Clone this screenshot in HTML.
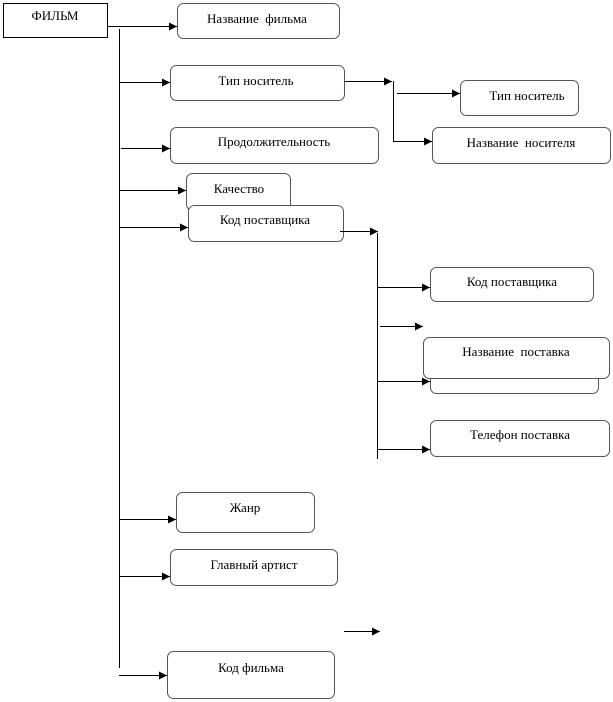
<!DOCTYPE html>
<html><head><meta charset="utf-8"><style>
html,body{margin:0;padding:0;background:#fff;}
svg{display:block;}
text{font-family:"Liberation Serif","Noto Serif CJK SC",serif;font-size:13px;fill:#000;white-space:pre;}
</style></head><body>
<svg width="613" height="702" viewBox="0 0 613 702" xmlns="http://www.w3.org/2000/svg" xml:space="preserve">
<defs>
<marker id="a" markerWidth="8" markerHeight="8" refX="8" refY="4" orient="auto" markerUnits="userSpaceOnUse">
<path d="M0,0 L8,4 L0,8 Z" fill="#000"/></marker>
</defs>
<g fill="#fff" stroke="#555" stroke-width="1">
<rect x="3.5" y="3.5" width="104" height="34" stroke="#000"/>
<rect x="177.5" y="3.5" width="162" height="35" rx="6"/>
<rect x="170.5" y="65.5" width="174" height="35" rx="6"/>
<rect x="170.5" y="127.5" width="208" height="36" rx="6"/>
<rect x="186.5" y="173.5" width="104" height="37" rx="6"/>
<rect x="188.5" y="205.5" width="155" height="36" rx="6"/>
<rect x="460.5" y="80.5" width="118" height="35" rx="6"/>
<rect x="432.5" y="127.5" width="178" height="36" rx="6"/>
<rect x="430.5" y="267.5" width="163" height="34" rx="6"/>
<rect x="430.5" y="355.5" width="168" height="38" rx="6"/>
<rect x="423.5" y="337.5" width="186" height="41" rx="6"/>
<rect x="430.5" y="420.5" width="179" height="36" rx="6"/>
<rect x="176.5" y="492.5" width="138" height="40" rx="6"/>
<rect x="170.5" y="549.5" width="167" height="36" rx="6"/>
<rect x="167.5" y="651.5" width="167" height="47" rx="6"/>
</g>
<g stroke="#000" stroke-width="1" fill="none">
<line x1="119.5" y1="29" x2="119.5" y2="668"/>
<line x1="107" y1="26.5" x2="177" y2="26.5" marker-end="url(#a)"/>
<line x1="119" y1="82.5" x2="170" y2="82.5" marker-end="url(#a)"/>
<line x1="121" y1="148.5" x2="170" y2="148.5" marker-end="url(#a)"/>
<line x1="119" y1="190.5" x2="186" y2="190.5" marker-end="url(#a)"/>
<line x1="119" y1="227.5" x2="188" y2="227.5" marker-end="url(#a)"/>
<line x1="119" y1="519.5" x2="176" y2="519.5" marker-end="url(#a)"/>
<line x1="119" y1="576.5" x2="170" y2="576.5" marker-end="url(#a)"/>
<line x1="119" y1="675.5" x2="167" y2="675.5" marker-end="url(#a)"/>
<line x1="344" y1="81.5" x2="392" y2="81.5" marker-end="url(#a)"/>
<polyline points="393.5,81 393.5,141.5 432,141.5" marker-end="url(#a)"/>
<line x1="397" y1="93.5" x2="460" y2="93.5" marker-end="url(#a)"/>
<line x1="340" y1="231.5" x2="378" y2="231.5" marker-end="url(#a)"/>
<line x1="377.5" y1="233" x2="377.5" y2="459"/>
<line x1="377" y1="287.5" x2="430" y2="287.5" marker-end="url(#a)"/>
<line x1="380" y1="326.5" x2="423" y2="326.5" marker-end="url(#a)"/>
<line x1="377" y1="381.5" x2="430" y2="381.5" marker-end="url(#a)"/>
<line x1="377" y1="449.5" x2="430" y2="449.5" marker-end="url(#a)"/>
<line x1="344" y1="631.5" x2="380" y2="631.5" marker-end="url(#a)"/>
</g>
<g text-anchor="middle">
<text x="55" y="20">ФИЛЬМ</text>
<text x="257" y="23">Название  фильма</text>
<text x="256" y="85">Тип носитель</text>
<text x="274" y="146">Продолжительность</text>
<text x="239" y="193">Качество</text>
<text x="265" y="224">Код поставщика</text>
<text x="527" y="100">Тип носитель</text>
<text x="521" y="147">Название  носителя</text>
<text x="512" y="286">Код поставщика</text>
<text x="516" y="356">Название  поставка</text>
<text x="520" y="439">Телефон поставка</text>
<text x="245" y="512">Жанр</text>
<text x="254" y="569">Главный артист</text>
<text x="251" y="672">Код фильма</text>
</g>
</svg>
</body></html>
